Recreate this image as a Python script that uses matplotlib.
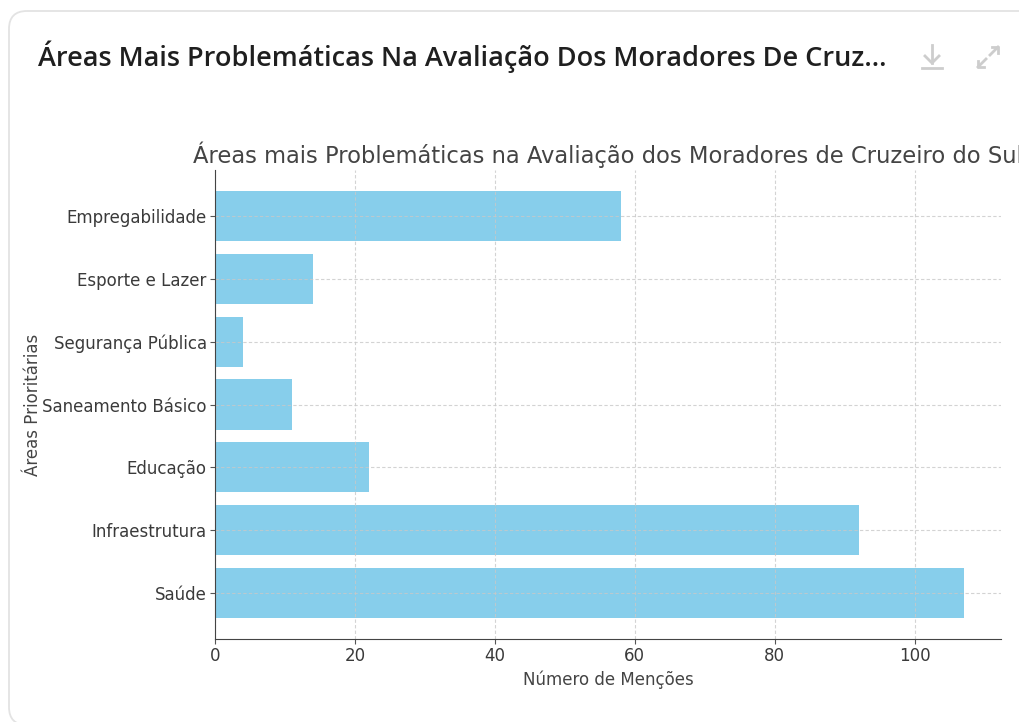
import matplotlib
matplotlib.use("Agg")
import matplotlib.pyplot as plt
from matplotlib.patches import FancyBboxPatch

# data (bottom to top, as drawn)
areas = ['Saúde', 'Infraestrutura', 'Educação', 'Saneamento Básico',
         'Segurança Pública', 'Esporte e Lazer', 'Empregabilidade']
mencoes = [107, 92, 22, 11, 4, 14, 58]

card_title = 'Áreas Mais Problemáticas Na Avaliação Dos Moradores De Cruz...'
chart_title = 'Áreas mais Problemáticas na Avaliação dos Moradores de Cruzeiro do Sul'

W, H = 1019, 722
fig = plt.figure(figsize=(W / 100, H / 100), dpi=100)
fig.patch.set_facecolor('white')

# card background
bg = fig.add_axes([0, 0, 1, 1])
bg.set_xlim(0, W)
bg.set_ylim(H, 0)
bg.axis('off')
bg.add_patch(FancyBboxPatch((9, 11), W + 40, H - 8,
                            boxstyle='round,pad=0,rounding_size=18',
                            fc='white', ec='#e3e3e3', lw=1.3))
bg.text(38, 57, card_title, fontsize=19.5, fontweight='semibold',
        family='Open Sans', color='#1f1f1f', va='center', ha='left')

# download icon
ic = '#cdcdcd'
bg.plot([932, 932], [45, 63], color=ic, lw=2)
bg.plot([925, 932, 939], [56, 63, 56], color=ic, lw=2)
bg.plot([922, 942], [68, 68], color=ic, lw=2)
# expand icon
bg.plot([978, 986], [67, 59], color=ic, lw=2)
bg.plot([978, 978, 984], [61, 67, 67], color=ic, lw=2)
bg.plot([990, 998], [55, 47], color=ic, lw=2)
bg.plot([992, 998, 998], [47, 47, 53], color=ic, lw=2)

# chart
ax = fig.add_axes([215 / W, 1 - 639 / H, (1001 - 215) / W, (639 - 170) / H])
ax.barh(areas, mencoes, color='skyblue')
# title runs past the card edge, as in the reference
ax.set_title(chart_title, fontsize=16.3, color='#444444', pad=5)
ax.set_xlabel('Número de Menções', fontsize=12, color='#444444')
ax.set_ylabel('Áreas Prioritárias', fontsize=12, color='#444444', labelpad=0)
ax.tick_params(labelsize=12, labelcolor='#3a3a3a', color='#555555', pad=2.5)
ax.grid(True, linestyle=(0, (3, 2)), color='#c8c8c8', lw=0.8, alpha=0.8)
for s in ['top', 'right']:
    ax.spines[s].set_visible(False)
for s in ['left', 'bottom']:
    ax.spines[s].set_color('#444444')

fig.savefig('out.png', dpi=100)
